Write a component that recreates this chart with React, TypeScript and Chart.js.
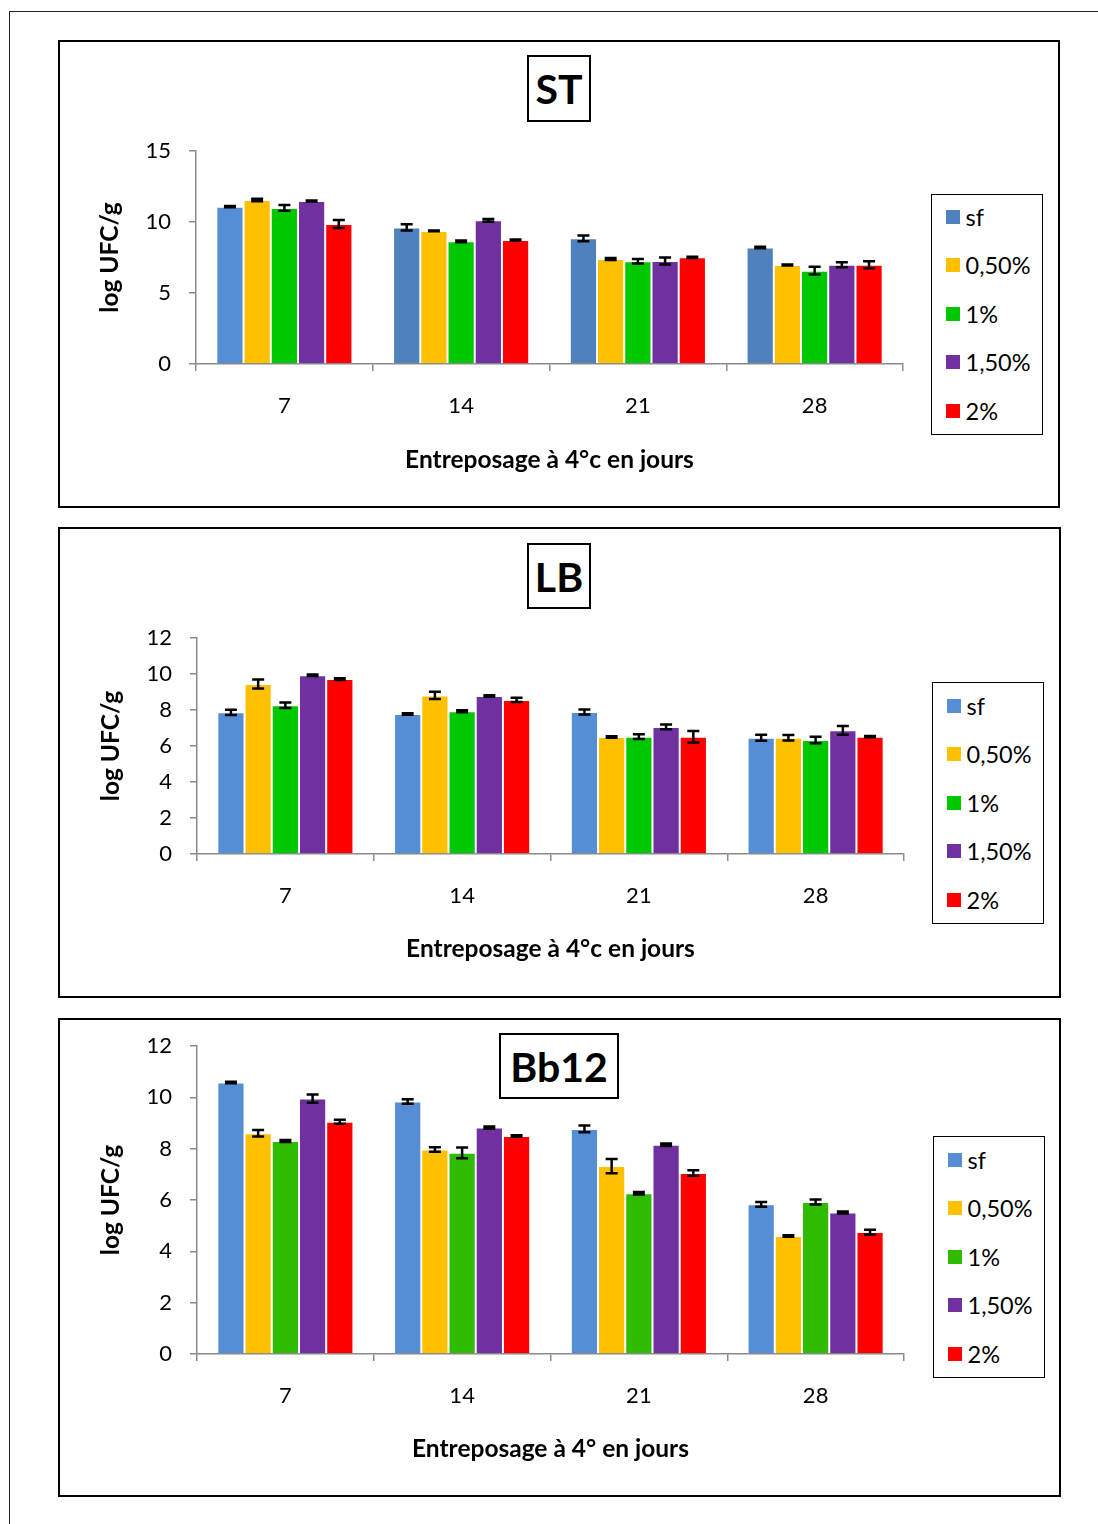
import React, { useEffect, useRef } from 'react';
import { Chart, registerables } from 'chart.js';

Chart.register(...registerables);

const FONT = 'Lato, "Open Sans", sans-serif';
const AXIS = '#8a8a8a';

const categories = ['7', '14', '21', '28'];
const seriesLabels = ['sf', '0,50%', '1%', '1,50%', '2%'];

// ---- ST ----
const stSf = [11.08, 9.62, 8.85, 8.21];
const stSfErr = [0.05, 0.22, 0.2, 0.05];
const st050 = [11.55, 9.37, 7.39, 6.97];
const st050Err = [0.08, 0.03, 0.07, 0.03];
const st1 = [10.99, 8.64, 7.23, 6.57];
const st1Err = [0.2, 0.06, 0.16, 0.27];
const st150 = [11.48, 10.12, 7.25, 6.99];
const st150Err = [0.04, 0.1, 0.25, 0.17];
const st2 = [9.86, 8.73, 7.51, 6.99];
const st2Err = [0.28, 0.03, 0.04, 0.25];

// ---- LB ----
const lbSf = [7.87, 7.78, 7.89, 6.46];
const lbSfErr = [0.15, 0.04, 0.14, 0.17];
const lb050 = [9.44, 8.81, 6.5, 6.46];
const lb050Err = [0.25, 0.2, 0.04, 0.15];
const lb1 = [8.26, 7.93, 6.52, 6.33];
const lb1Err = [0.15, 0.05, 0.13, 0.18];
const lb150 = [9.93, 8.78, 7.06, 6.87];
const lb150Err = [0.04, 0.04, 0.13, 0.24];
const lb2 = [9.72, 8.56, 6.52, 6.52];
const lb2Err = [0.05, 0.12, 0.32, 0.04];

// ---- Bb12 ----
const bbSf = [10.58, 9.84, 8.77, 5.83];
const bbSfErr = [0.03, 0.09, 0.13, 0.09];
const bb050 = [8.6, 7.97, 7.32, 4.6];
const bb050Err = [0.13, 0.09, 0.28, 0.03];
const bb1 = [8.3, 7.84, 6.26, 5.92];
const bb1Err = [0.04, 0.21, 0.05, 0.1];
const bb150 = [9.95, 8.82, 8.15, 5.51];
const bb150Err = [0.16, 0.04, 0.05, 0.04];
const bb2 = [9.05, 8.49, 7.05, 4.75];
const bb2Err = [0.08, 0.03, 0.11, 0.09];

// y tick values
const stTicks = [0, 5, 10, 15];
const lbTicks = [0, 2, 4, 6, 8, 10, 12];
const bbTicks = [0, 2, 4, 6, 8, 10, 12];

// colours
const BLUE_L = '#558ED5';
const BLUE_D = '#4F81BD';
const ORANGE = '#FFC000';
const GREEN = '#00C800';
const GREEN_B = '#2EBB00';
const PURPLE = '#7030A0';
const RED = '#FF0000';

type Series = { values: number[]; errors: number[]; color: string | string[] };
type PanelDef = {
  title: string;
  xTitle: string;
  ticks: number[];
  series: Series[];
  legendColors: string[];
  box: { x: number; y: number; w: number; h: number };
  area: { l: number; t: number; r: number; b: number };
  titleBox: { x: number; y: number; w: number; h: number };
  legendBox: { x: number; y: number; w: number; h: number };
  legendFirst: number;
  yTitleX: number;
  xLabelY: number;
  xTitleY: number;
};

const panels: PanelDef[] = [
  {
    title: 'ST',
    xTitle: 'Entreposage à 4°c en jours',
    ticks: stTicks,
    series: [
      { values: stSf, errors: stSfErr, color: [BLUE_L, BLUE_D, BLUE_D, BLUE_D] },
      { values: st050, errors: st050Err, color: ORANGE },
      { values: st1, errors: st1Err, color: GREEN },
      { values: st150, errors: st150Err, color: PURPLE },
      { values: st2, errors: st2Err, color: RED },
    ],
    legendColors: [BLUE_D, ORANGE, GREEN, PURPLE, RED],
    box: { x: 58, y: 40, w: 1002, h: 468 },
    area: { l: 196, t: 151, r: 903, b: 364 },
    titleBox: { x: 527, y: 55, w: 64, h: 67 },
    legendBox: { x: 931, y: 194, w: 112, h: 241 },
    legendFirst: 23,
    yTitleX: 110,
    xLabelY: 406,
    xTitleY: 460,
  },
  {
    title: 'LB',
    xTitle: 'Entreposage à 4°c en jours',
    ticks: lbTicks,
    series: [
      { values: lbSf, errors: lbSfErr, color: BLUE_L },
      { values: lb050, errors: lb050Err, color: ORANGE },
      { values: lb1, errors: lb1Err, color: GREEN },
      { values: lb150, errors: lb150Err, color: PURPLE },
      { values: lb2, errors: lb2Err, color: RED },
    ],
    legendColors: [BLUE_L, ORANGE, GREEN, PURPLE, RED],
    box: { x: 58, y: 527, w: 1003, h: 471 },
    area: { l: 197, t: 638, r: 904, b: 854 },
    titleBox: { x: 527, y: 543, w: 64, h: 66 },
    legendBox: { x: 932, y: 682, w: 112, h: 242 },
    legendFirst: 24,
    yTitleX: 111,
    xLabelY: 896,
    xTitleY: 949,
  },
  {
    title: 'Bb12',
    xTitle: 'Entreposage à 4° en jours',
    ticks: bbTicks,
    series: [
      { values: bbSf, errors: bbSfErr, color: BLUE_L },
      { values: bb050, errors: bb050Err, color: ORANGE },
      { values: bb1, errors: bb1Err, color: GREEN_B },
      { values: bb150, errors: bb150Err, color: PURPLE },
      { values: bb2, errors: bb2Err, color: RED },
    ],
    legendColors: [BLUE_L, ORANGE, GREEN_B, PURPLE, RED],
    box: { x: 58, y: 1018, w: 1003, h: 479 },
    area: { l: 197, t: 1046, r: 904, b: 1354 },
    titleBox: { x: 499, y: 1033, w: 120, h: 66 },
    legendBox: { x: 933, y: 1136, w: 112, h: 242 },
    legendFirst: 24,
    yTitleX: 111,
    xLabelY: 1396,
    xTitleY: 1449,
  },
];

const errorBarPlugin = {
  id: 'errorBars',
  afterDatasetsDraw(chart: any) {
    const ctx = chart.ctx;
    const yScale = chart.scales.y;
    ctx.save();
    ctx.strokeStyle = '#000';
    ctx.lineWidth = 2.5;
    chart.data.datasets.forEach((ds: any, i: number) => {
      const meta = chart.getDatasetMeta(i);
      meta.data.forEach((el: any, j: number) => {
        const v = ds.data[j];
        const e = ds.errors ? ds.errors[j] : 0;
        const yTop = yScale.getPixelForValue(v + e);
        const yBot = yScale.getPixelForValue(v - e);
        const x = el.x;
        const hw = 6;
        ctx.beginPath();
        ctx.moveTo(x, yTop);
        ctx.lineTo(x, yBot);
        ctx.moveTo(x - hw, yTop);
        ctx.lineTo(x + hw, yTop);
        ctx.moveTo(x - hw, yBot);
        ctx.lineTo(x + hw, yBot);
        ctx.stroke();
      });
    });
    ctx.restore();
  },
};

function Panel({ p }: { p: PanelDef }) {
  const ref = useRef<HTMLCanvasElement>(null);
  const bw = 2;
  const innerX = p.box.x + bw;
  const innerY = p.box.y + bw;
  const W = p.box.w - 2 * bw;
  const H = p.box.h - 2 * bw;

  useEffect(() => {
    const yWidth = p.area.l - innerX;
    const xHeight = H - (p.area.b - innerY);
    const padTop = p.area.t - innerY;
    const padRight = W - (p.area.r - innerX);
    const titleSize = 24.5;
    const lh = titleSize * 1.2;
    const tickSize = 22;
    const tickLen = 7;
    const xTickPad = p.xLabelY - p.area.b - tickLen - (tickSize * 1.2) / 2;
    const yTickPad = 18;
    const yMax = p.ticks[p.ticks.length - 1];
    const step = p.ticks[1] - p.ticks[0];

    const chart = new Chart(ref.current as HTMLCanvasElement, {
      type: 'bar',
      data: {
        labels: categories,
        datasets: p.series.map((s, i) => ({
          label: seriesLabels[i],
          data: s.values,
          errors: s.errors,
          backgroundColor: s.color,
          borderColor: 'rgba(255,255,255,0.55)',
          borderWidth: 1,
          categoryPercentage: 0.77,
          barPercentage: 1,
        })) as any,
      },
      options: {
        animation: false,
        responsive: false,
        maintainAspectRatio: false,
        devicePixelRatio: 1,
        layout: { padding: { left: 0, top: padTop, right: padRight, bottom: 0 } },
        plugins: {
          legend: { display: false },
          tooltip: { enabled: false },
          title: { display: false },
        },
        scales: {
          x: {
            grid: {
              drawOnChartArea: false,
              drawTicks: true,
              tickLength: tickLen,
              color: AXIS,
              lineWidth: 1.5,
              offset: true,
            },
            border: { display: true, color: AXIS, width: 1.5 },
            ticks: {
              color: '#000',
              font: { family: FONT, size: tickSize },
              padding: xTickPad,
              maxRotation: 0,
            },
            title: {
              display: true,
              text: p.xTitle,
              color: '#000',
              font: { family: FONT, size: titleSize, weight: 'bold' },
              padding: { top: 0, bottom: H - (p.xTitleY - innerY) - lh / 2 },
            },
            afterFit: (s: any) => {
              s.height = xHeight;
              s.paddingLeft = 0;
              s.paddingRight = 0;
            },
          },
          y: {
            min: 0,
            max: yMax,
            grid: {
              drawOnChartArea: false,
              drawTicks: true,
              tickLength: tickLen,
              color: AXIS,
              lineWidth: 1.5,
            },
            border: { display: true, color: AXIS, width: 1.5 },
            ticks: {
              stepSize: step,
              color: '#000',
              font: { family: FONT, size: tickSize },
              padding: yTickPad,
            },
            title: {
              display: true,
              text: 'log UFC/g',
              color: '#000',
              font: { family: FONT, size: titleSize, weight: 'bold' },
              padding: { top: p.yTitleX - innerX - lh / 2, bottom: 0 },
            },
            afterFit: (s: any) => {
              s.width = yWidth;
              s.paddingTop = 0;
              s.paddingBottom = 0;
            },
          },
        },
      } as any,
      plugins: [errorBarPlugin],
    });
    return () => chart.destroy();
  }, []);

  return (
    <>
      <div
        style={{
          position: 'absolute',
          left: p.box.x,
          top: p.box.y,
          width: p.box.w,
          height: p.box.h,
          border: `${bw}px solid #000`,
          boxSizing: 'border-box',
          background: '#fff',
        }}
      >
        <canvas ref={ref} width={W} height={H} style={{ display: 'block', width: W, height: H }} />
      </div>
      <div
        style={{
          position: 'absolute',
          left: p.titleBox.x,
          top: p.titleBox.y,
          width: p.titleBox.w,
          height: p.titleBox.h,
          border: '2px solid #000',
          boxSizing: 'border-box',
          background: '#fff',
          display: 'flex',
          alignItems: 'center',
          justifyContent: 'center',
          fontFamily: FONT,
          fontWeight: 'bold',
          fontSize: 41,
          color: '#000',
        }}
      >
        {p.title}
      </div>
      <div
        style={{
          position: 'absolute',
          left: p.legendBox.x,
          top: p.legendBox.y,
          width: p.legendBox.w,
          height: p.legendBox.h,
          border: '1.5px solid #000',
          boxSizing: 'border-box',
          background: '#fff',
        }}
      >
        {seriesLabels.map((lab, i) => (
          <div
            key={lab}
            style={{
              position: 'absolute',
              left: 13.5,
              top: p.legendFirst + i * 48.5 - 1.5 - 14,
              height: 28,
              display: 'flex',
              alignItems: 'center',
              whiteSpace: 'nowrap',
            }}
          >
            <span style={{ display: 'inline-block', width: 14, height: 14, background: p.legendColors[i], marginRight: 6 }} />
            <span style={{ fontFamily: FONT, fontSize: 23.5, color: '#000', lineHeight: '28px' }}>{lab}</span>
          </div>
        ))}
      </div>
    </>
  );
}

export default function App() {
  return (
    <div style={{ position: 'absolute', left: 0, top: 0, width: 1098, height: 1524, background: '#fff', overflow: 'hidden' }}>
      <div
        style={{
          position: 'absolute',
          left: 9,
          top: 11,
          width: 1098,
          height: 1524,
          borderTop: '1.5px solid #222',
          borderLeft: '1.5px solid #222',
        }}
      />
      {panels.map((p) => (
        <Panel key={p.title} p={p} />
      ))}
    </div>
  );
}
